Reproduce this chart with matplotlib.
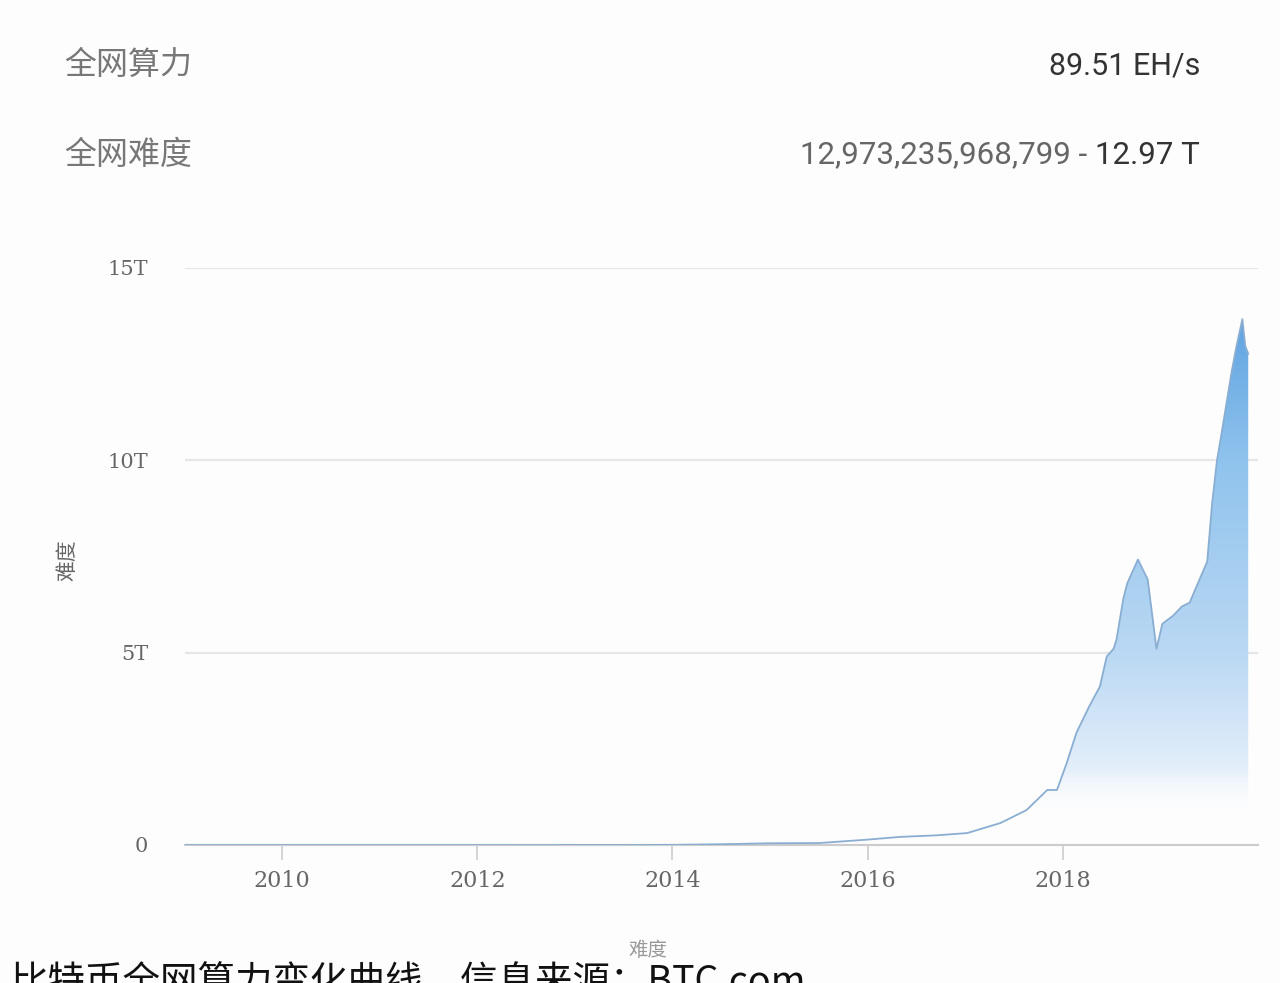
import numpy as np
import matplotlib.pyplot as plt
from matplotlib.colors import LinearSegmentedColormap, to_rgba

# difficulty history (years, trillions)
years = [2009.0, 2010.0, 2011.0, 2012.0, 2013.0, 2014.0, 2014.5, 2015.0, 2015.5,
         2016.0, 2016.33, 2016.7, 2017.02, 2017.36, 2017.63, 2017.84, 2017.94,
         2018.04, 2018.14, 2018.27, 2018.38, 2018.45, 2018.52, 2018.55, 2018.62,
         2018.66, 2018.77, 2018.87, 2018.96, 2019.02, 2019.13, 2019.22, 2019.30,
         2019.35, 2019.48, 2019.53, 2019.58, 2019.64, 2019.73, 2019.78, 2019.84,
         2019.87, 2019.90]
difficulty_t = [0.0, 0.0, 0.0, 0.0, 0.0005, 0.003, 0.02, 0.045, 0.05,
                0.14, 0.21, 0.25, 0.31, 0.57, 0.91, 1.43, 1.43,
                2.13, 2.92, 3.6, 4.12, 4.9, 5.1, 5.34, 6.4,
                6.8, 7.42, 6.9, 5.1, 5.75, 5.96, 6.2, 6.3,
                6.6, 7.37, 8.88, 10.0, 10.9, 12.3, 12.97, 13.67,
                12.97, 12.77]

x_ticks = [2010, 2012, 2014, 2016, 2018]
y_ticks = [0, 5, 10, 15]
y_tick_labels = ["0", "5T", "10T", "15T"]

hashrate_label = "全网算力"
hashrate_value = "89.51 EH/s"
difficulty_label = "全网难度"
difficulty_raw = "12,973,235,968,799 - "
difficulty_short = "12.97 T"
series_name = "难度"
caption = "比特币全网算力变化曲线，信息来源：BTC.com"

cjk = ["Noto Sans CJK SC", "DejaVu Sans"]
plt.rcParams["font.family"] = cjk

fig = plt.figure(figsize=(12.8, 9.83), dpi=100)
fig.patch.set_facecolor("#fdfdfd")
ax = fig.add_axes([0.1442, 0.1404, 0.8386, 0.587])
ax.set_facecolor("#fdfdfd")

# gradient fill under the curve
poly = ax.fill_between(years, difficulty_t, 0, facecolor="none", edgecolor="none")
stops = [(0.0, (1, 1, 1, 0)), (0.7 / 15, (1, 1, 1, 0)),
         (2 / 15, to_rgba("#e2eefa")), (5 / 15, to_rgba("#bad8f3")),
         (10 / 15, to_rgba("#8fc3ed")), (1.0, to_rgba("#4f98dc"))]
cmap = LinearSegmentedColormap.from_list("fade", stops)
grad = np.linspace(0, 1, 400).reshape(-1, 1)
im = ax.imshow(grad, cmap=cmap, origin="lower", aspect="auto",
               extent=(2009, 2020, 0, 15), zorder=1)
im.set_clip_path(poly.get_paths()[0], transform=ax.transData)
ax.plot(years, difficulty_t, color="#8aaed2", lw=1.3, zorder=3)

ax.set_xlim(2009, 2020)
ax.set_ylim(0, 15)
ax.set_xticks(x_ticks)
ax.set_xticklabels([str(y) for y in x_ticks], family="DejaVu Serif",
                   fontsize=16, color="#666666")
ax.set_yticks(y_ticks)
ax.set_yticklabels(y_tick_labels, family="DejaVu Serif", fontsize=15, color="#666666")
ax.tick_params(axis="x", length=11, width=1.2, color="#cccccc", pad=7)
ax.tick_params(axis="y", length=0, pad=26)
ax.grid(axis="y", color="#e6e6e6", lw=1.6, zorder=0)
ax.set_axisbelow(True)
for s in ["top", "right", "left"]:
    ax.spines[s].set_visible(False)
ax.spines["bottom"].set_color("#cccccc")
ax.spines["bottom"].set_linewidth(1.5)

fig.text(0.053, 0.43, series_name, rotation=90, ha="center", va="center",
         fontsize=15, color="#666666")
fig.text(0.506, 0.033, series_name, ha="center", va="center", fontsize=14, color="#999999")

# header rows
fig.text(0.05, 1 - 65 / 983, hashrate_label, ha="left", va="center", fontsize=23, color="#777777")
fig.text(0.05, 1 - 155 / 983, difficulty_label, ha="left", va="center", fontsize=23, color="#777777")
fig.text(0.9375, 1 - 66 / 983, hashrate_value, ha="right", va="center",
         family="Roboto", fontsize=22, color="#333333")
t_short = fig.text(0.9375, 1 - 155 / 983, difficulty_short, ha="right", va="center",
                   family="Roboto", fontsize=22.5, color="#333333")
fig.canvas.draw()
bb = t_short.get_window_extent()
fig.text(bb.x0 / fig.bbox.width, 1 - 155 / 983, difficulty_raw, ha="right", va="center",
         family="Roboto", fontsize=22.5, color="#666666")

fig.text(0.008, -0.010, caption, ha="left", va="baseline", fontsize=27, color="#111111")

fig.savefig("out.png", dpi=100, facecolor=fig.get_facecolor())
